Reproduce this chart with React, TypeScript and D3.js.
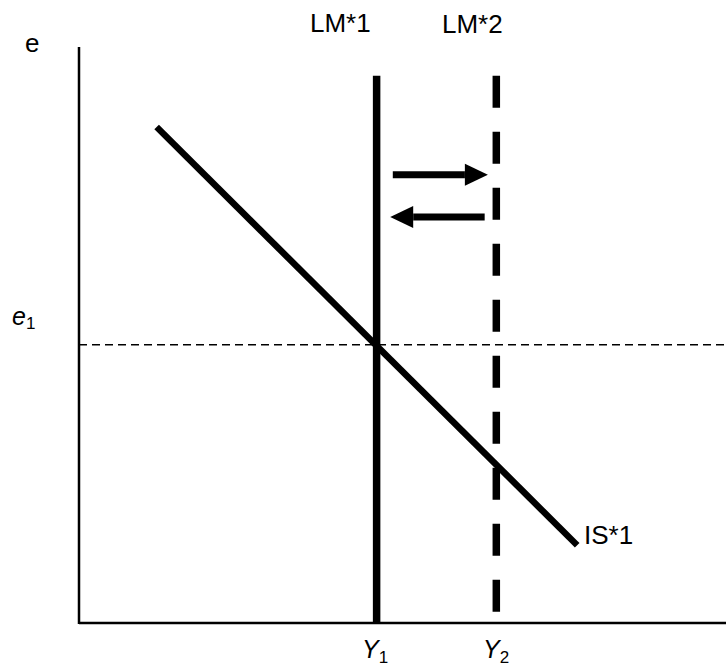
import React from "react";
import * as d3 from "d3";

// Conceptual data (model units)
const axisDomainX = [0, 10];
const axisDomainY = [0, 10];
const lmCurves = [
  { name: "LM*1", y: 4.6, top: 9.5, dashed: false },
  { name: "LM*2", y: 6.45, top: 9.5, dashed: true },
];
const isCurve = [
  { y: 1.2, e: 8.61 },
  { y: 7.7, e: 1.35 },
];
const eLevel = 4.83;
const arrows = [
  { from: 4.85, to: 6.32, e: 7.78 },
  { from: 6.27, to: 4.81, e: 7.05 },
];

const W = 726;
const H = 666;
const FONT = "'Liberation Sans', Arial, sans-serif";

export default function App() {
  const x = d3.scaleLinear().domain(axisDomainX).range([79, 726]);
  const y = d3.scaleLinear().domain(axisDomainY).range([623, 47]);
  const line = d3
    .line<{ y: number; e: number }>()
    .x((d) => x(d.y))
    .y((d) => y(d.e));

  const headLen = 23;
  const headHalf = 11;

  return (
    <svg
      width={W}
      height={H}
      style={{ position: "absolute", left: 0, top: 0, background: "#fff" }}
      fontFamily={FONT}
    >
      <rect width={W} height={H} fill="#fff" />
      {/* axes */}
      <line x1={x(0)} x2={x(0)} y1={y(10)} y2={y(0) + 1} stroke="#000" strokeWidth={2.5} />
      <line x1={x(0)} x2={x(10)} y1={y(0)} y2={y(0)} stroke="#000" strokeWidth={2.5} />

      {/* e1 dashed */}
      <line
        x1={x(0)}
        x2={x(10)}
        y1={y(eLevel)}
        y2={y(eLevel)}
        stroke="#000"
        strokeWidth={1.5}
        strokeDasharray="8,5"
      />

      {/* LM curves */}
      {lmCurves.map((c) => (
        <line
          key={c.name}
          x1={x(c.y)}
          x2={x(c.y)}
          y1={y(c.top)}
          y2={y(0)}
          stroke="#000"
          strokeWidth={7.5}
          strokeDasharray={c.dashed ? "32,24" : undefined}
        />
      ))}

      {/* IS curve */}
      <path d={line(isCurve) || ""} stroke="#000" strokeWidth={6.5} fill="none" />

      {/* arrows */}
      {arrows.map((a, i) => {
        const x0 = x(a.from);
        const x1 = x(a.to);
        const yy = y(a.e);
        const dir = x1 > x0 ? 1 : -1;
        const base = x1 - dir * headLen;
        return (
          <g key={i}>
            <line x1={x0} x2={base} y1={yy} y2={yy} stroke="#000" strokeWidth={7} />
            <path
              d={`M${x1},${yy} L${base},${yy - headHalf} L${base},${yy + headHalf} Z`}
              fill="#000"
            />
          </g>
        );
      })}

      {/* labels */}
      <text x={25} y={52} fontSize={26}>e</text>
      <text x={310} y={32} fontSize={26}>LM*1</text>
      <text x={442} y={33} fontSize={26}>LM*2</text>
      <text x={584} y={544} fontSize={26}>IS*1</text>
      <text x={12} y={325} fontSize={25}>
        <tspan fontStyle="italic">e</tspan>
        <tspan fontSize={17} dy={4}>1</tspan>
      </text>
      <text x={362} y={658} fontSize={25}>
        <tspan fontStyle="italic">Y</tspan>
        <tspan fontSize={17} dy={5}>1</tspan>
      </text>
      <text x={483} y={658} fontSize={25}>
        <tspan fontStyle="italic">Y</tspan>
        <tspan fontSize={17} dy={5}>2</tspan>
      </text>
    </svg>
  );
}
